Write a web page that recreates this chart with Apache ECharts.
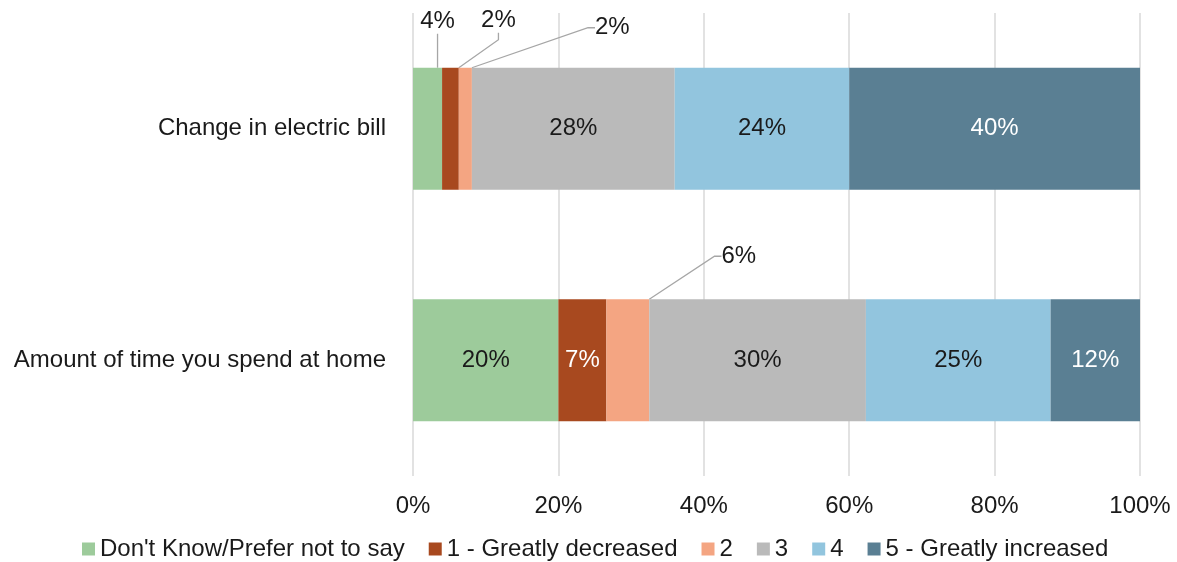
<!DOCTYPE html>
<html>
<head>
<meta charset="utf-8">
<script src="https://cdn.jsdelivr.net/npm/echarts@6/dist/echarts.min.js"></script>
<style>
  html, body { margin: 0; padding: 0; background: #fff; }
  #main { width: 1177px; height: 562px; }
</style>
</head>
<body>
<div id="main"></div>
<script>
var categories = ['Change in electric bill', 'Amount of time you spend at home'];
var seriesNames = ["Don't Know/Prefer not to say", '1 - Greatly decreased', '2', '3', '4', '5 - Greatly increased'];
var dontKnow = [4, 20];
var greatlyDecreased = [2.3, 6.6];
var two = [1.8, 5.9];
var three = [27.9, 29.8];
var four = [24, 25.4];
var greatlyIncreased = [40, 12.3];
var xTicks = [0, 20, 40, 60, 80, 100];
var colors = ['#9DCB9B', '#A8491F', '#F4A582', '#BABABA', '#92C5DE', '#5A7F93'];
var labelColors = ['#1a1a1a', '#ffffff', '#1a1a1a', '#1a1a1a', '#1a1a1a', '#ffffff'];

// callouts for the thin segments: [seriesIndex, dataIndex, dx, dy]
var callouts = [[0, 0, 10, -29], [1, 0, 48, -30], [2, 0, 147, -23], [2, 1, 111, -26]];

var values = [dontKnow, greatlyDecreased, two, three, four, greatlyIncreased];

function calloutOf(s, d) {
  for (var i = 0; i < callouts.length; i++) {
    if (callouts[i][0] === s && callouts[i][1] === d) return callouts[i];
  }
  return null;
}

var series = values.map(function (vals, s) {
  return {
    name: seriesNames[s],
    type: 'bar',
    stack: 'total',
    barWidth: 122,
    itemStyle: { color: colors[s] },
    label: {
      show: true,
      position: 'inside',
      color: labelColors[s],
      fontSize: 24,
      fontFamily: 'Liberation Sans, Arial, sans-serif',
      formatter: function (p) { return Math.round(p.value) + '%'; }
    },
    labelLine: { show: true, length2: 7, lineStyle: { color: '#A6A6A6', width: 1.3 } },
    labelLayout: function (p) {
      var c = calloutOf(p.seriesIndex, p.dataIndex);
      if (c) return { dx: c[2], dy: c[3] };
      return {};
    },
    data: vals.map(function (v, d) {
      var c = calloutOf(s, d);
      if (c) return { value: v, label: { position: 'top', color: '#1a1a1a', distance: 5 } };
      return v;
    })
  };
});

var chart = echarts.init(document.getElementById('main'));
chart.setOption({
  animation: false,
  textStyle: { fontFamily: 'Liberation Sans, Arial, sans-serif' },
  color: colors,
  grid: { left: 413, right: 37, top: 13, bottom: 86 },
  legend: {
    top: 532,
    left: 77,
    itemWidth: 13,
    itemHeight: 13,
    itemGap: 24,
    icon: 'rect',
    textStyle: { fontSize: 24, color: '#1a1a1a' },
    data: seriesNames
  },
  xAxis: {
    type: 'value',
    min: xTicks[0],
    max: xTicks[xTicks.length - 1],
    interval: xTicks[1] - xTicks[0],
    axisLine: { show: false },
    axisTick: { show: false },
    splitLine: { lineStyle: { color: '#D9D9D9', width: 1.5 } },
    axisLabel: { fontSize: 24, color: '#1a1a1a', margin: 18, formatter: '{value}%' }
  },
  yAxis: {
    type: 'category',
    inverse: true,
    data: categories,
    axisLine: { show: false },
    axisTick: { show: false },
    axisLabel: { fontSize: 24, color: '#1a1a1a', margin: 27 }
  },
  series: series
});
</script>
</body>
</html>
